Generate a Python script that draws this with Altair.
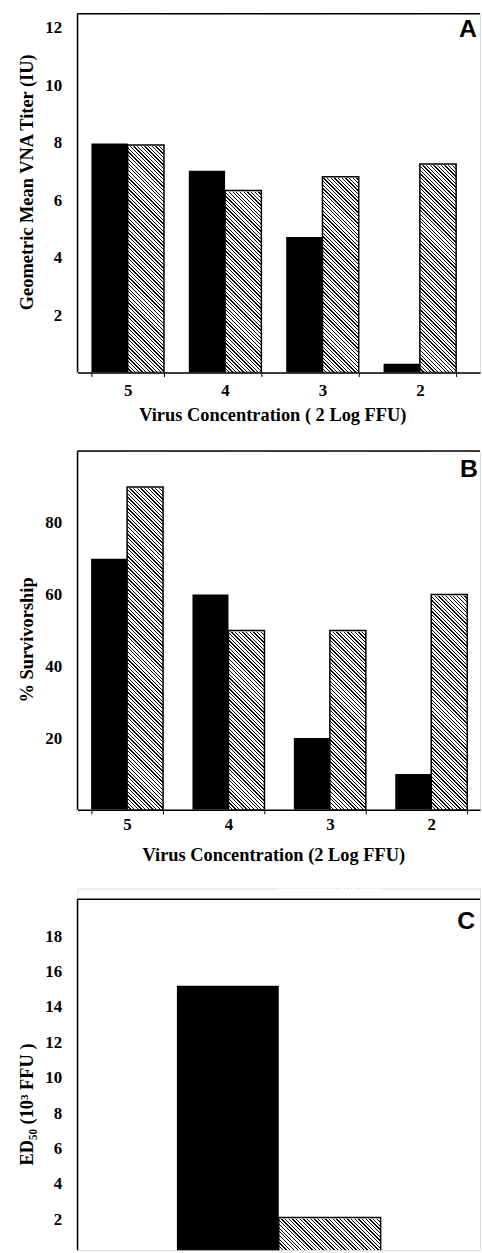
import altair as alt
import pandas as pd

# ---- data ----
conc = ["5", "4", "3", "2"]
series = ["solid", "hatched"]
titer_solid = [7.97, 7.02, 4.72, 0.31]
titer_hatched = [7.92, 6.33, 6.81, 7.26]
surv_solid = [70, 60, 20, 10]
surv_hatched = [90, 50, 50, 60]
ed_group = ["ED50"]
ed_solid = [15.2]
ed_hatched = [2.1]

SERIF = "Liberation Serif"
SANS = "Liberation Sans"
PW = 405
LBL = 17
TTL = 18.5


def long(cats, s, h):
    rows = []
    for c, a, b in zip(cats, s, h):
        rows.append({"cat": c, "series": "solid", "value": a})
        rows.append({"cat": c, "series": "hatched", "value": b})
    return pd.DataFrame(rows)


def band_width(n, pi, po, width):
    step = width / (n - pi + 2 * po)
    return step * (1 - pi)


def hatch(W, H, period=3.7, black=1.3):
    L = W + H
    a = W * L / (W * W + H * H)
    stops = []
    pos = 0.0
    while pos < L:
        s = pos / L
        e = min((pos + black) / L, 1.0)
        stops += [
            {"offset": s, "color": "white"},
            {"offset": s, "color": "black"},
            {"offset": e, "color": "black"},
            {"offset": e, "color": "white"},
        ]
        pos += period
    return {"gradient": "linear", "x1": 0, "y1": 1, "x2": a, "y2": 1 - a * H / W,
            "stops": stops}


def panel(df, cats, ymin, ymax, frame_top, height, yticks, ytitle, ytitle_y,
          xaxis, letter, lx, ly, pi, po, al):
    gw = band_width(len(cats), pi, po, PW)
    grad = hatch(gw / 2, height)
    xscale = alt.Scale(domain=cats, paddingInner=pi, paddingOuter=po, align=al)
    yscale = alt.Scale(domain=[ymin, ymax], nice=False, zero=False)
    yaxis = alt.Axis(values=yticks, title=ytitle, domain=False, ticks=False, grid=False,
                     labelPadding=16, labelFont=SERIF, labelFontSize=LBL,
                     labelFontWeight="bold", labelColor="black", format="d",
                     titleFont=SERIF, titleFontSize=TTL, titleFontWeight="bold",
                     titleColor="black", titleX=-51, titleY=ytitle_y,
                     titleBaseline="middle", titleAngle=270)
    x = alt.X("cat:N", scale=xscale, axis=xaxis)
    xo = alt.XOffset("series:N", scale=alt.Scale(domain=series))

    def Y(**kw):
        return alt.Y(scale=yscale, axis=yaxis, type="quantitative", **kw)

    base = alt.Chart(df)
    hat = base.transform_filter(alt.datum.series == "hatched")
    bg = hat.mark_bar(fill=grad, clip=True).encode(
        x=x, xOffset=xo, y=Y(datum=ymax), y2=alt.datum(ymin))
    mask = hat.mark_bar(fill="white", stroke="white", strokeWidth=2.5, clip=True).encode(
        x=x, xOffset=xo, y=Y(field="value"), y2=alt.datum(ymax))
    outline = hat.mark_bar(fillOpacity=0, stroke="black", strokeWidth=1.5, clip=True).encode(
        x=x, xOffset=xo, y=Y(field="value"), y2=alt.datum(0))
    solid = base.transform_filter(alt.datum.series == "solid").mark_bar(
        fill="black", clip=True).encode(
        x=x, xOffset=xo, y=Y(field="value"), y2=alt.datum(0))
    one = base.transform_aggregate(n="count()")
    top = one.mark_rule(stroke="black", strokeWidth=1.5).encode(
        x=alt.value(0), x2=alt.value(PW), y=Y(datum=frame_top))
    left = one.mark_rule(stroke="black", strokeWidth=1.5).encode(
        x=alt.value(0), y=Y(datum=frame_top), y2=alt.datum(ymin))
    txt = alt.Chart(pd.DataFrame({"letter": [letter]})).mark_text(
        font=SANS, fontWeight="bold", fontSize=25, align="center",
        baseline="middle", color="black").encode(
        text="letter:N", x=alt.value(lx), y=alt.value(ly))
    return alt.layer(bg, mask, outline, solid, top, left, txt).properties(
        width=PW, height=height)


def xaxis(title, label_pad, title_x, title_y):
    return alt.Axis(title=title, labelAngle=0, labelFont=SERIF, labelFontSize=LBL,
                    labelFontWeight="bold", labelColor="black", labelPadding=label_pad,
                    tickBand="extent", tickSize=4, tickColor="black", tickWidth=1,
                    domainColor="black", domainWidth=1.5, grid=False,
                    titleFont=SERIF, titleFontSize=TTL, titleFontWeight="bold",
                    titleColor="black", titleX=title_x, titleY=title_y,
                    titleBaseline="middle")


pA = panel(long(conc, titer_solid, titer_hatched), conc, 0, 12.48, 12.48, 361,
           [2, 4, 6, 8, 10, 12], "Geometric Mean VNA Titer (IU)", 169,
           xaxis("Virus Concentration ( 2 Log FFU)", 6, 196, 42),
           "A", 393, 15, 0.255, 0.194, 0.368)
pB = panel(long(conc, surv_solid, surv_hatched), conc, 0, 100, 100, 361,
           [20, 40, 60, 80], "% Survivorship", 189.5,
           xaxis("Virus Concentration (2  Log FFU)", 3, 197, 45),
           "B", 394, 18, 0.29, 0.13, 0.515)
pC = panel(long(ed_group, ed_solid, ed_hatched), ed_group, 0.25, 20.70, 20.08, 364,
           [2, 4, 6, 8, 10, 12, 14, 16, 18], "ED\u2085\u2080 (10\u00b3 FFU )", 217,
           None, "C", 391, 33, 0.0, 0.4878, 0.5)

chart = alt.vconcat(pA, pB, pC, spacing=79, bounds="flush").resolve_scale(
    x="independent", y="independent", xOffset="independent"
).properties(
    padding={"left": 17, "top": 8, "right": 0, "bottom": 0}
).configure_view(strokeOpacity=0).configure(background="white")

chart.save("out.html", embed_options={"renderer": "svg", "actions": False})
